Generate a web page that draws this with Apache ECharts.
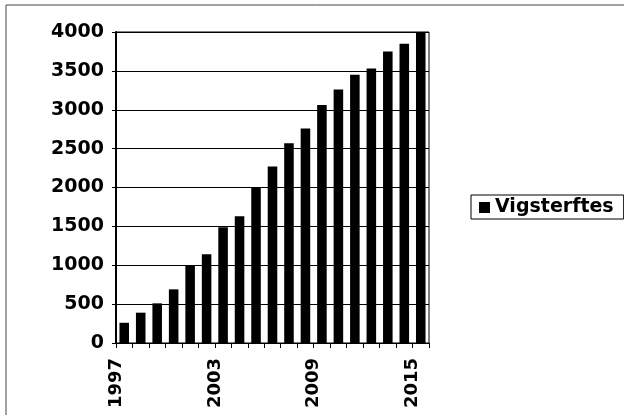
<!DOCTYPE html>
<html>
<head>
<meta charset="utf-8">
<script src="https://cdn.jsdelivr.net/npm/echarts@6/dist/echarts.min.js"></script>
<style>html,body{margin:0;padding:0;background:#fff}#c{width:624px;height:415px}</style>
</head>
<body>
<div id="c"></div>
<script>
const categories = ['1997','1998','1999','2000','2001','2002','2003','2004','2005','2006','2007','2008','2009','2010','2011','2012','2013','2014','2015'];
const values = [260, 390, 510, 690, 1000, 1140, 1490, 1630, 2000, 2270, 2570, 2760, 3060, 3260, 3450, 3530, 3750, 3850, 4000];
const tickLabels = ['1997','1998','1999','2000','2001','2002','2003','2004','2005','2006','2007','2008','2009','2010','2011','2012','2013','2014','2015','2016'];
const seriesName = 'Vigsterftes';

const FONT = 'DejaVu Sans';
const chart = echarts.init(document.getElementById('c'), null, {renderer: 'canvas'});
chart.setOption({
  animation: false,
  backgroundColor: '#fff',
  graphic: [{
    type: 'rect', shape: {x: 6, y: 5, width: 640, height: 430},
    style: {fill: 'none', stroke: '#444', lineWidth: 1}, z: -1
  }],
  grid: {left: 116, right: 195, top: 32, bottom: 72, show: true, borderColor: '#000', borderWidth: 1, backgroundColor: 'transparent'},
  legend: {
    data: [seriesName], left: 471, top: 195, orient: 'vertical',
    padding: [3, 10, 2, 8], itemWidth: 11, itemHeight: 11,
    borderColor: '#000', borderWidth: 1, icon: 'rect',
    textStyle: {fontFamily: FONT, fontWeight: 'bold', fontSize: 19, color: '#000'}
  },
  xAxis: [{
    type: 'category', data: categories, boundaryGap: true,
    axisLine: {lineStyle: {color: '#000', width: 1}},
    axisTick: {show: true, interval: 0, length: 5, lineStyle: {color: '#000'}},
    axisLabel: {show: false}
  }, {
    type: 'category', data: tickLabels, boundaryGap: false, position: 'bottom',
    axisLine: {show: false}, axisTick: {show: false},
    axisLabel: {interval: 5, rotate: 90, margin: 15, fontFamily: FONT, fontWeight: 'bold', fontSize: 18, color: '#000'}
  }],
  yAxis: {
    type: 'value', min: 0, max: 4000, interval: 500,
    axisLine: {show: true, lineStyle: {color: '#000', width: 2}},
    axisTick: {show: true, length: 4, lineStyle: {color: '#000'}},
    splitLine: {show: true, lineStyle: {color: '#000', width: 1}},
    axisLabel: {margin: 12, fontFamily: FONT, fontWeight: 'bold', fontSize: 19, color: '#000',
      formatter: function (v) { return String(v); }}
  },
  series: [{
    name: seriesName, type: 'bar', data: values, xAxisIndex: 0,
    barCategoryGap: '42%', itemStyle: {color: '#000'}
  }]
});
</script>
</body>
</html>
